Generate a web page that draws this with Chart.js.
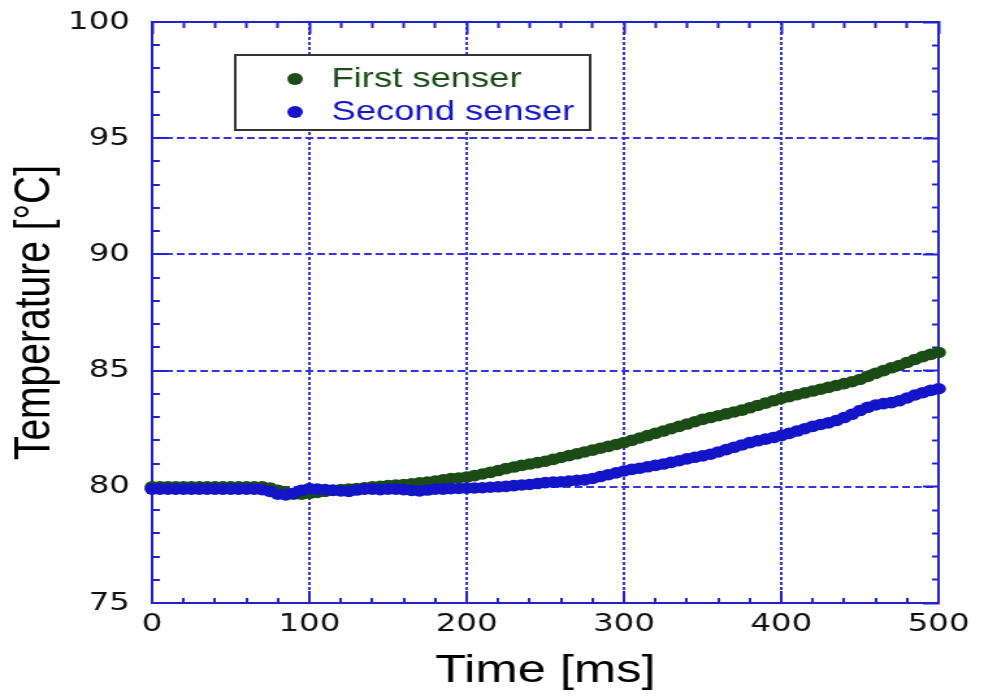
<!DOCTYPE html>
<html>
<head>
<meta charset="utf-8">
<script src="https://cdn.jsdelivr.net/npm/chart.js"></script>
<style>
  html, body { margin: 0; padding: 0; background: #fff; overflow: hidden; }
  /* the reference is stretched sideways, so the chart is drawn narrow and scaled */
  #wrap { width: 757px; height: 698px; transform: scaleX(1.29987); transform-origin: 0 0; }
</style>
</head>
<body>
<div id="wrap"><canvas id="tempChart" width="757" height="698"></canvas></div>
<script>
// time axis, ms
const timeMs = [
  0, 5, 10, 15, 20, 25, 30, 35, 40, 45,
  50, 55, 60, 65, 70, 75, 80, 85, 90, 95,
  100, 105, 110, 115, 120, 125, 130, 135, 140, 145,
  150, 155, 160, 165, 170, 175, 180, 185, 190, 195,
  200, 205, 210, 215, 220, 225, 230, 235, 240, 245,
  250, 255, 260, 265, 270, 275, 280, 285, 290, 295,
  300, 305, 310, 315, 320, 325, 330, 335, 340, 345,
  350, 355, 360, 365, 370, 375, 380, 385, 390, 395,
  400, 405, 410, 415, 420, 425, 430, 435, 440, 445,
  450, 455, 460, 465, 470, 475, 480, 485, 490, 495,
  500
];

// temperature of first sensor, degC
const firstSensor = [
  80.0, 80.0, 80.0, 80.0, 80.0, 80.0, 80.0, 80.0, 80.0, 80.0,
  80.0, 80.0, 80.0, 80.0, 80.0, 79.95, 79.85, 79.75, 79.68, 79.68,
  79.72, 79.76, 79.8, 79.84, 79.88, 79.9, 79.93, 79.96, 80.0, 80.02,
  80.05, 80.08, 80.1, 80.13, 80.17, 80.2, 80.25, 80.3, 80.35, 80.38,
  80.42, 80.48, 80.55, 80.62, 80.7, 80.78, 80.85, 80.92, 80.98, 81.04,
  81.1, 81.18, 81.26, 81.34, 81.42, 81.5, 81.58, 81.66, 81.74, 81.82,
  81.9, 82.0, 82.1, 82.2, 82.3, 82.4, 82.5, 82.6, 82.7, 82.8,
  82.9, 82.98, 83.06, 83.14, 83.22, 83.3, 83.4, 83.5, 83.6, 83.7,
  83.8, 83.88, 83.96, 84.04, 84.12, 84.2, 84.28, 84.36, 84.44, 84.52,
  84.62, 84.75, 84.88, 85.0, 85.12, 85.22, 85.35, 85.48, 85.6, 85.7,
  85.78
];

// temperature of second sensor, degC
const secondSensor = [
  79.9, 79.9, 79.9, 79.9, 79.9, 79.9, 79.9, 79.9, 79.9, 79.9,
  79.9, 79.9, 79.9, 79.9, 79.88, 79.8, 79.68, 79.65, 79.72, 79.85,
  79.92, 79.9, 79.88, 79.86, 79.82, 79.8, 79.86, 79.9, 79.9, 79.88,
  79.9, 79.9, 79.88, 79.84, 79.82, 79.86, 79.9, 79.9, 79.92, 79.93,
  79.94, 79.95, 79.96, 79.98, 80.0, 80.02, 80.05, 80.08, 80.1, 80.14,
  80.18, 80.2, 80.22, 80.25, 80.28, 80.3, 80.36, 80.44, 80.52, 80.6,
  80.68, 80.75, 80.8, 80.86, 80.92, 80.98, 81.05, 81.12, 81.2, 81.27,
  81.33, 81.4, 81.5, 81.6, 81.7, 81.8, 81.9, 81.98, 82.05, 82.12,
  82.2, 82.3, 82.4, 82.5, 82.6, 82.68, 82.75, 82.85, 82.98, 83.12,
  83.28, 83.42, 83.52, 83.58, 83.62, 83.7, 83.82, 83.95, 84.05, 84.15,
  84.22
];

const seriesNames = ['First senser', 'Second senser'];
const xTickLabels = [0, 100, 200, 300, 400, 500];
const yTickLabels = [75, 80, 85, 90, 95, 100];

const FONT = "'Liberation Sans', Arial, sans-serif";
const TICK_FONT = "'DejaVu Sans', sans-serif";
const GREEN = '#1b4c15';
const BLUE = '#1414c8';
const AXIS = '#2222cc';
const GRID = '#3434e0';

const toPoints = (ys) => ys.map((y, i) => ({ x: timeMs[i], y: y }));

const isMajorX = (ctx) => ctx.tick && xTickLabels.includes(ctx.tick.value);
const isMajorY = (ctx) => ctx.tick && yTickLabels.includes(ctx.tick.value);

// fixed axis sizes, no extra label padding pushing the plot area
const fixSize = (w, h) => (s) => {
  if (w !== null) s.width = w;
  if (h !== null) s.height = h;
  s.paddingTop = 0; s.paddingBottom = 0; s.paddingLeft = 0; s.paddingRight = 0;
};

// white box with frame behind the legend, legend redrawn on top
const legendFrame = {
  id: 'legendFrame',
  afterLayout(chart) {
    const lg = chart.legend;
    lg.left = 208; lg.top = 60; lg.right = 460; lg.bottom = 200;
    lg.width = lg.right - lg.left; lg.height = lg.bottom - lg.top;
  },
  beforeDatasetsDraw(chart) {
    const ctx = chart.ctx;
    ctx.save();
    ctx.fillStyle = '#fff';
    ctx.fillRect(181, 55, 273, 75);
    ctx.lineWidth = 2;
    ctx.strokeStyle = '#333';
    ctx.strokeRect(181, 55, 273, 75);
    ctx.restore();
    chart.legend.draw();
  }
};

let tempChart;

function initializeChart() {
  const ctx = document.getElementById('tempChart').getContext('2d');

  tempChart = new Chart(ctx, {
    type: 'scatter',
    data: {
      datasets: [{
        label: seriesNames[0],
        data: toPoints(firstSensor),
        backgroundColor: GREEN,
        borderColor: GREEN,
        pointRadius: 5.8,
        pointBorderWidth: 0,
        order: 1,
        clip: false
      }, {
        label: seriesNames[1],
        data: toPoints(secondSensor),
        backgroundColor: BLUE,
        borderColor: BLUE,
        pointRadius: 5.8,
        pointBorderWidth: 0,
        order: 0,
        clip: false
      }]
    },
    options: {
      responsive: false,
      animation: false,
      devicePixelRatio: 1,
      layout: { padding: { left: 0, top: 22, right: 35, bottom: 0 } },
      scales: {
        x: {
          type: 'linear', position: 'bottom', min: 0, max: 500,
          afterFit: fixSize(null, 95),
          ticks: {
            stepSize: 20, autoSkip: false, maxRotation: 0, minRotation: 0, padding: 18,
            color: '#111', font: { family: TICK_FONT, size: 25 },
            callback: (v) => xTickLabels.includes(v) ? String(v) : ''
          },
          grid: {
            color: (c) => isMajorX(c) ? GRID : 'rgba(0,0,0,0)',
            lineWidth: 2, tickLength: -12, tickColor: AXIS, tickWidth: 2,
            tickBorderDash: (c) => isMajorX(c) ? [] : [6, 100]
          },
          border: { color: AXIS, width: 2, dash: [3, 2] },
          title: {
            display: true, text: 'Time [ms]', color: '#000',
            font: { family: FONT, size: 39 }, padding: { top: 0, bottom: 3 }
          }
        },
        x2: {
          type: 'linear', position: 'top', min: 0, max: 500,
          afterFit: fixSize(null, 0),
          ticks: { display: false, stepSize: 20, autoSkip: false, maxRotation: 0 },
          grid: {
            drawOnChartArea: false, tickLength: -12, tickColor: AXIS, tickWidth: 2,
            tickBorderDash: (c) => isMajorX(c) ? [] : [0, 6, 6, 100]
          },
          border: { color: AXIS, width: 2 }
        },
        y: {
          type: 'linear', position: 'left', min: 75, max: 100,
          afterFit: fixSize(117, null),
          ticks: {
            stepSize: 1, autoSkip: false, padding: 29,
            color: '#111', font: { family: TICK_FONT, size: 25 },
            callback: (v) => yTickLabels.includes(v) ? String(v) : ''
          },
          grid: {
            color: (c) => isMajorY(c) ? GRID : 'rgba(0,0,0,0)',
            lineWidth: 2, tickLength: -12, tickColor: AXIS, tickWidth: 2,
            tickBorderDash: (c) => isMajorY(c) ? [] : [0, 6, 6, 100]
          },
          border: { color: AXIS, width: 2, dash: [6, 3] },
          title: {
            display: true, text: 'Temperature [°C]', color: '#000',
            font: { family: FONT, size: 39 }, padding: { top: 4, bottom: 0 }
          }
        },
        y2: {
          type: 'linear', position: 'right', min: 75, max: 100,
          afterFit: fixSize(0, null),
          ticks: { display: false, stepSize: 1, autoSkip: false },
          grid: {
            drawOnChartArea: false, tickLength: -12, tickColor: AXIS, tickWidth: 2,
            tickBorderDash: (c) => isMajorY(c) ? [] : [6, 100]
          },
          border: { color: AXIS, width: 2 }
        }
      },
      plugins: {
        legend: {
          position: 'chartArea',
          align: 'start',
          labels: {
            usePointStyle: true,
            pointStyle: 'circle',
            boxHeight: 8.5,
            padding: 5,
            font: { family: FONT, size: 28 },
            sort: (a, b) => a.datasetIndex - b.datasetIndex,
            generateLabels: (chart) => {
              const items = Chart.defaults.plugins.legend.labels.generateLabels(chart);
              items.forEach((it) => { it.fontColor = chart.data.datasets[it.datasetIndex].borderColor; });
              return items;
            }
          }
        },
        tooltip: { enabled: false }
      }
    },
    plugins: [legendFrame]
  });
}

document.addEventListener('DOMContentLoaded', initializeChart);
</script>
</body>
</html>
